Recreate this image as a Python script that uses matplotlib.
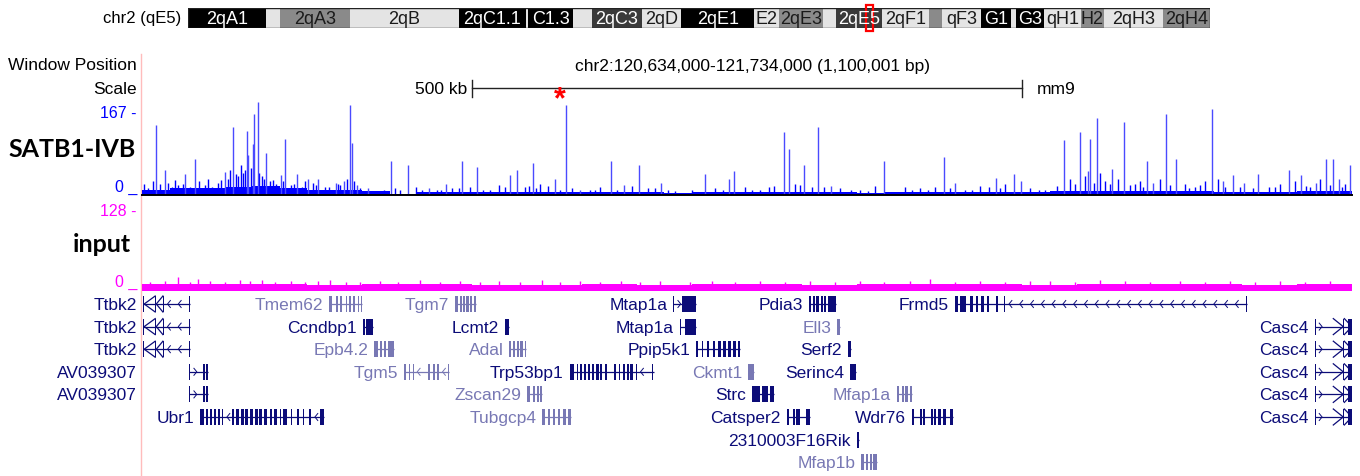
import numpy as np
import matplotlib.pyplot as plt
from matplotlib.patches import Rectangle

plt.rcParams['font.family'] = ['Liberation Sans', 'DejaVu Sans']

W, H, DPI = 1360, 477, 100

# browser window chr2:120,634,000-121,734,000 (mm9); track positions are kb from window start
WIN_START_MB = 120.634
WIN_LEN_KB = 1100
CHR_LEN_MB = 181.75
SCALE_BAR_START_KB = 300
SCALE_BAR_KB = 500

# ---- chr2 ideogram (Mb) ----
band_starts = [0, 13.9, 16.4, 28.8, 48.2, 60.1, 60.5, 68.5, 71.8, 80.7, 87.7, 100.7, 105.1,
               112.9, 115.2, 123.4, 131.8, 134.1, 141.0, 146.4, 147.2, 152.2, 158.8, 162.9, 173.4]
band_ends = band_starts[1:] + [CHR_LEN_MB]
band_stain = ['gpos100', 'gneg', 'gpos50', 'gneg', 'gpos100', 'gneg', 'gpos100', 'gneg', 'gpos75',
              'gneg', 'gpos100', 'gneg', 'gpos50', 'gneg', 'gpos75', 'gneg', 'gpos50', 'gneg',
              'gpos100', 'gneg', 'gpos100', 'gneg', 'gpos50', 'gneg', 'gpos50']
band_labels = ['2qA1', '', '2qA3', '2qB', '2qC1.1', '', 'C1.3', '', '2qC3', '2qD', '2qE1', 'E2',
               '2qE3', '', '2qE5', '2qF1', '', 'qF3', 'G1', '', 'G3', 'qH1', 'H2', '2qH3', '2qH4']

# ---- SATB1-IVB signal (0-167) ----
satb1_floor_bin_kb = 25
satb1_floor = [10, 12, 12, 14, 16, 12, 10, 10, 8, 2, 5, 5, 5, 5, 5, 5, 5, 5, 5, 3, 5, 5,
               6, 6, 6, 5, 4, 5, 5, 5, 5, 5, 5, 7, 8, 8, 7, 7, 7, 6, 6, 6, 7, 7]
satb1_peak_kb = [13, 21, 39, 48, 75, 83, 95, 96, 102, 105, 101, 113, 126, 130, 141, 151, 160, 176,
                 184, 189, 191, 195, 205, 226, 242, 261, 276, 291, 305, 335, 341, 355, 375, 385,
                 398, 426, 438, 452, 472, 512, 534, 538, 584, 588, 602, 615, 626, 675, 729, 739,
                 776, 793, 799, 838, 853, 860, 862, 868, 882, 893, 914, 919, 931, 940, 973, 983,
                 992, 1002, 1015, 1043, 1054, 1067, 1076, 1083, 1088, 1098]
satb1_peak_val = [128, 46, 39, 65, 42, 125, 118, 73, 148, 170, 93, 76, 36, 103, 39, 29, 29, 22,
                  26, 164, 96, 19, 12, 63, 55, 12, 20, 63, 51, 36, 46, 59, 30, 165,
                  9, 63, 19, 55, 22, 39, 30, 44, 116, 84, 54, 125, 17, 63, 69, 22,
                  31, 39, 26, 100, 116, 44, 102, 141, 48, 133, 63, 22, 148, 65, 157, 26,
                  37, 22, 39, 46, 36, 22, 65, 65, 29, 54]
satb1_minor_kb = [5, 16, 27, 33, 44, 57, 64, 69, 78, 87, 92, 99, 109, 116, 122, 135, 145, 155, 166,
                  180, 186, 198, 235, 249, 268, 282, 298, 316, 325, 348, 362, 369, 391, 407, 416,
                  445, 460, 485, 521, 548, 562, 575, 594, 609, 635, 653, 666, 694, 707, 721, 748,
                  762, 785, 807, 821, 844, 857, 871, 875, 887, 903, 907, 925, 948, 957, 966, 978,
                  998, 1025, 1035, 1048, 1062, 1071, 1094,
                  2, 10, 24, 30, 37, 52, 60, 72, 80, 85, 90, 94, 106, 111, 119, 128, 138, 148,
                  158, 170, 178, 193, 210, 220, 230, 255, 272, 288, 310, 330, 352, 358, 380, 412,
                  432, 466, 478, 500, 528, 555, 570, 598, 620, 645, 660, 700, 715, 735, 755, 770,
                  780, 815, 832, 848, 865, 880, 898, 910, 935, 952, 962, 985, 1010, 1030, 1058,
                  1080, 1091]
satb1_minor_val = [12, 20, 15, 18, 14, 18, 15, 22, 30, 35, 40, 50, 35, 25, 20, 18, 15, 22, 14,
                   18, 30, 12, 10, 14, 10, 12, 15, 10, 18, 14, 20, 16, 12, 10, 14,
                   16, 12, 8, 12, 14, 10, 16, 20, 14, 12, 10, 16, 14, 12, 14, 10,
                   16, 20, 12, 10, 30, 35, 40, 25, 30, 20, 25, 30, 20, 15, 25, 30,
                   15, 14, 20, 25, 15, 30, 20,
                   20, 25, 22, 28, 20, 25, 30, 28, 45, 38, 55, 45, 40, 30, 28, 25, 20, 25,
                   18, 15, 20, 25, 8, 10, 12, 9, 10, 12, 10, 14, 16, 12, 10, 9,
                   10, 12, 10, 9, 10, 10, 14, 18, 15, 10, 8, 10, 9, 12, 10, 14,
                   12, 10, 16, 20, 22, 20, 18, 15, 18, 12, 18, 15, 12, 14, 16,
                   18, 15]

# ---- input signal (0-128) ----
input_floor_bin_kb = 50
input_floor = [10, 10, 10, 9, 10, 10, 9, 9, 10, 9, 10, 10, 9, 10, 10, 10, 9, 10, 10, 10, 9, 10]
input_spike_kb = [7, 21, 33, 44, 51, 62, 75, 89, 98, 109, 121, 135, 148, 160, 171, 185, 198, 216,
                  233, 253, 271, 289, 307, 325, 344, 364, 380, 398, 416, 435, 453, 471, 498, 518,
                  539, 562, 585, 607, 630, 653, 675, 698, 716, 739, 762, 785, 807, 825, 848, 871,
                  894, 916, 944, 966, 989, 1012, 1035, 1057, 1080]
input_spike_val = [14, 15, 21, 14, 18, 15, 14, 17, 15, 16, 14, 15, 14, 15, 16, 14, 14, 15,
                   14, 17, 14, 15, 14, 15, 14, 16, 14, 15, 14, 15, 14, 15, 14, 15,
                   14, 15, 14, 15, 14, 15, 14, 15, 18, 14, 15, 14, 15, 15, 14, 16,
                   15, 14, 15, 14, 15, 14, 15, 14, 15]

# ---- genes (kb from window start) ----
gene_names = ['Ttbk2', 'Tmem62', 'Tgm7', 'Mtap1a', 'Pdia3', 'Frmd5',
              'Ttbk2', 'Ccndbp1', 'Lcmt2', 'Mtap1a', 'Ell3', 'Casc4',
              'Ttbk2', 'Epb4.2', 'Adal', 'Ppip5k1', 'Serf2', 'Casc4',
              'AV039307', 'Tgm5', 'Trp53bp1', 'Ckmt1', 'Serinc4', 'Casc4',
              'AV039307', 'Zscan29', 'Strc', 'Mfap1a', 'Casc4',
              'Ubr1', 'Tubgcp4', 'Catsper2', 'Wdr76', 'Casc4',
              '2310003F16Rik', 'Mfap1b']
gene_rows = [0, 0, 0, 0, 0, 0,
             1, 1, 1, 1, 1, 1,
             2, 2, 2, 2, 2, 2,
             3, 3, 3, 3, 3, 3,
             4, 4, 4, 4, 4,
             5, 5, 5, 5, 5,
             6, 7]
gene_strands = ['-', '+', '+', '+', '+', '-',
                '-', '+', '+', '+', '+', '+',
                '-', '-', '-', '+', '+', '+',
                '+', '-', '-', '+', '+', '+',
                '+', '-', '-', '+', '+',
                '-', '+', '+', '+', '+',
                '+', '+']
gene_shades = ['dark', 'light', 'light', 'dark', 'dark', 'dark',
               'dark', 'dark', 'dark', 'dark', 'light', 'dark',
               'dark', 'light', 'light', 'dark', 'dark', 'dark',
               'dark', 'light', 'dark', 'light', 'dark', 'dark',
               'dark', 'light', 'dark', 'light', 'dark',
               'dark', 'light', 'dark', 'dark', 'dark',
               'dark', 'light']
ttbk2_exons = [(1, 2), (12, 13), (19, 20), (43, 44)]
casc4_exons = [(1066, 1067), (1092, 1093), (1096, 1100)]
av_exons = [(43, 44), (55, 57), (58, 60)]
gene_exons = [
    ttbk2_exons,
    [(170, 173), (176, 178), (180, 182), (185, 186), (188, 190), (192, 194), (196, 197), (199, 200)],
    [(285, 287), (289, 291), (292, 294), (295, 297), (298, 300), (302, 304)],
    [(483, 484), (491, 504)],
    [(606, 608), (610, 612), (613, 615), (617, 619), (620, 622), (624, 631)],
    [(739, 742), (744, 749), (753, 755), (758, 760), (763, 765), (768, 770), (776, 778),
     (784, 785), (1004, 1005)],
    ttbk2_exons,
    [(201, 203), (204, 210)],
    [(330, 334)],
    [(489, 490), (494, 504)],
    [(632, 635)],
    casc4_exons,
    ttbk2_exons,
    [(211, 215), (216, 218), (220, 222), (224, 229)],
    [(334, 335), (337, 339), (341, 343), (344, 346), (348, 349)],
    [(504, 505), (509, 510), (514, 515), (519, 521), (524, 526), (528, 531), (533, 535),
     (537, 540), (542, 544)],
    [(642, 645)],
    casc4_exons,
    av_exons,
    [(238, 240), (243, 244), (246, 247), (260, 262), (265, 266), (268, 270), (278, 279)],
    [(389, 393), (395, 396), (398, 400), (402, 404), (405, 407), (409, 411), (413, 415),
     (416, 418), (421, 423), (429, 431), (434, 435), (437, 439), (441, 443), (444, 446),
     (449, 450), (464, 465)],
    [(551, 556)],
    [(644, 649)],
    casc4_exons,
    av_exons,
    [(350, 353), (355, 357), (359, 361), (362, 364)],
    [(555, 562), (564, 569), (571, 575)],
    [(686, 688), (691, 693), (694, 696), (698, 700)],
    casc4_exons,
    [(53, 56), (58, 60), (62, 64), (65, 67), (69, 71), (73, 74), (82, 84), (85, 88), (90, 93),
     (94, 96), (98, 101), (103, 105), (106, 109), (111, 114), (116, 118), (120, 123),
     (125, 126), (128, 132), (135, 136), (141, 143), (146, 147), (152, 154), (162, 165)],
    [(364, 366), (369, 371), (374, 375), (378, 380), (383, 385), (387, 390)],
    [(586, 588), (592, 594), (595, 598), (604, 607)],
    [(700, 702), (707, 709), (710, 712), (717, 719), (720, 722), (724, 726), (728, 731), (735, 737)],
    casc4_exons,
    [(650, 652)],
    [(654, 656), (658, 660), (662, 664), (665, 668)],
]
# big open direction triangles (tip, base) drawn over dense first/last exons
gene_triangles = {'Ttbk2': [(2, 12), (13, 19)], 'Casc4': [(1092, 1083), (1100, 1093)]}
margin_labels = ['Ttbk2', 'AV039307']

STAIN = {'gpos100': '#000000', 'gpos75': '#3a3a3a', 'gpos50': '#8a8a8a', 'gneg': '#e4e4e4'}
DARK, LIGHT = '#0c0c78', '#7878b4'
BLUE, MAGENTA = '#0000ff', '#ff00ff'

fig = plt.figure(figsize=(W / DPI, H / DPI), dpi=DPI)
fig.patch.set_facecolor('white')


def px_axes(x0, y0, x1, y1):
    ax = fig.add_axes([x0 / W, 1 - y1 / H, (x1 - x0) / W, (y1 - y0) / H])
    ax.set_axis_off()
    return ax


# overlay for the left-hand labels and the pink guide line
over = px_axes(0, 0, W, H)
over.set_xlim(0, W)
over.set_ylim(H, 0)
over.plot([141, 141], [55, H], color='#ffbcbc', lw=1.0)
over.text(181, 19, 'chr2 (qE5)', ha='right', va='center', fontsize=12)
over.text(137, 66, 'Window Position', ha='right', va='center', fontsize=12.5)
over.text(137, 89, 'Scale', ha='right', va='center', fontsize=12.5)
over.text(137, 113, '167 -', ha='right', va='center', fontsize=11.5, color=BLUE)
over.text(137, 187, '0 _', ha='right', va='center', fontsize=11.5, color=BLUE)
over.text(136, 150, 'SATB1-IVB', ha='right', va='center', fontsize=18, fontweight='bold',
          family=['Lato', 'DejaVu Sans'])
over.text(137, 212, '128 -', ha='right', va='center', fontsize=11.5, color=MAGENTA)
over.text(137, 282, '0 _', ha='right', va='center', fontsize=11.5, color=MAGENTA)
over.text(131, 245, 'input', ha='right', va='center', fontsize=18, fontweight='bold',
          family=['Lato', 'DejaVu Sans'])

# ---- ideogram ----
ax_id = px_axes(188, 9, 1210, 29)
ax_id.set_xlim(0, CHR_LEN_MB)
ax_id.set_ylim(0, 1)
for s, e, st, lab in zip(band_starts, band_ends, band_stain, band_labels):
    ax_id.add_patch(Rectangle((s, 0), e - s, 1, fc=STAIN[st], ec='none'))
    if lab:
        tc = 'white' if st in ('gpos100', 'gpos75') else '#1a1a1a'
        ax_id.text((s + e) / 2, 0.47, lab, ha='center', va='center', color=tc, fontsize=13)
ax_id.add_patch(Rectangle((0, 0), CHR_LEN_MB, 1, fc='none', ec='#222222', lw=1))
ax_id.add_patch(Rectangle((WIN_START_MB, -0.13), WIN_LEN_KB / 1000, 1.26, fc='none',
                          ec='red', lw=1.6, clip_on=False))

# ---- position / scale ruler ----
ax_r = px_axes(142, 55, 1352, 100)
ax_r.set_xlim(0, WIN_LEN_KB)
ax_r.set_ylim(45, 0)
ax_r.text(WIN_LEN_KB / 2 + 5, 11, 'chr2:120,634,000-121,734,000 (1,100,001 bp)',
          ha='center', va='center', fontsize=12.5)
sb0, sb1 = SCALE_BAR_START_KB, SCALE_BAR_START_KB + SCALE_BAR_KB
ax_r.plot([sb0, sb1], [34, 34], color='#222222', lw=1)
ax_r.plot([sb0, sb0], [26, 43], color='#222222', lw=1)
ax_r.plot([sb1, sb1], [26, 43], color='#222222', lw=1)
ax_r.text(sb0 - 4, 34, '%d kb' % SCALE_BAR_KB, ha='right', va='center', fontsize=12.5)
ax_r.text(sb1 + 13, 34, 'mm9', ha='left', va='center', fontsize=12.5)

# ---- SATB1-IVB track ----
ax_s = px_axes(142, 102, 1352, 196)
ax_s.set_xlim(0, WIN_LEN_KB)
ax_s.set_ylim(0, 172)
edges = np.arange(len(satb1_floor) + 1) * satb1_floor_bin_kb
ax_s.stairs(satb1_floor, edges, fill=True, color=BLUE)
ax_s.vlines(satb1_minor_kb, 0, satb1_minor_val, color=BLUE, lw=1.0)
ax_s.vlines(satb1_peak_kb, 0, satb1_peak_val, color='#4a4aff', lw=1.0)
ax_s.axhline(0, color='black', lw=1.4, clip_on=False)
ax_s.text(380, 176, '*', ha='center', va='center', color='red', fontsize=22,
          fontweight='bold', clip_on=False)

# ---- input track ----
ax_i = px_axes(142, 207, 1352, 292)
ax_i.set_xlim(0, WIN_LEN_KB)
ax_i.set_ylim(0, 128)
edges = np.arange(len(input_floor) + 1) * input_floor_bin_kb
ax_i.stairs(input_floor, edges, fill=True, color=MAGENTA)
ax_i.vlines(input_spike_kb, 0, input_spike_val, color=MAGENTA, lw=1.0)

# ---- gene track ----
ROW0_PX, ROW_PX = 305, 22.6
EXON_H = 16 / ROW_PX
CHEV_H = 3.5 / ROW_PX
ax_g = px_axes(142, 293, 1352, H)
ax_g.set_xlim(0, WIN_LEN_KB)
ax_g.set_ylim((H - ROW0_PX) / ROW_PX, (293 - ROW0_PX) / ROW_PX)

for name, row, strand, shade, exons in zip(gene_names, gene_rows, gene_strands,
                                           gene_shades, gene_exons):
    col = DARK if shade == 'dark' else LIGHT
    s0, s1 = exons[0][0], exons[-1][1]
    ax_g.plot([s0, s1], [row, row], color=col, lw=0.9, solid_capstyle='butt')
    for a, b in exons:
        ax_g.add_patch(Rectangle((a, row - EXON_H / 2), max(b - a, 1.0), EXON_H,
                                 fc=col, ec='none'))
    tris = gene_triangles.get(name, [])
    for tip, base in tris:
        ax_g.plot([base, tip, base], [row - EXON_H / 2, row, row + EXON_H / 2],
                  color=col, lw=0.9)
    for (a0, a1), (b0, b1) in zip(exons[:-1], exons[1:]):
        g0, g1 = a1, b0
        for tip, base in tris:
            lo, hi = min(tip, base), max(tip, base)
            if hi <= g0 or lo >= g1:
                continue
            if lo - g0 > g1 - hi:
                g1 = min(g1, lo)
            else:
                g0 = max(g0, hi)
        if g1 - g0 < 7:
            continue
        d = 1.3 if strand == '+' else -1.3
        for x in np.arange(g0 + 4.5, g1 - 2, 9.8):
            ax_g.plot([x - d, x + d, x - d], [row - CHEV_H, row, row + CHEV_H],
                      color=col, lw=0.7)
    lx = -4.5 if name in margin_labels else s0 - 5.5
    ax_g.text(lx, row + 0.02, name, ha='right', va='center', color=col, fontsize=12.5,
              clip_on=False)

fig.savefig('out.png', dpi=DPI, facecolor='white')
